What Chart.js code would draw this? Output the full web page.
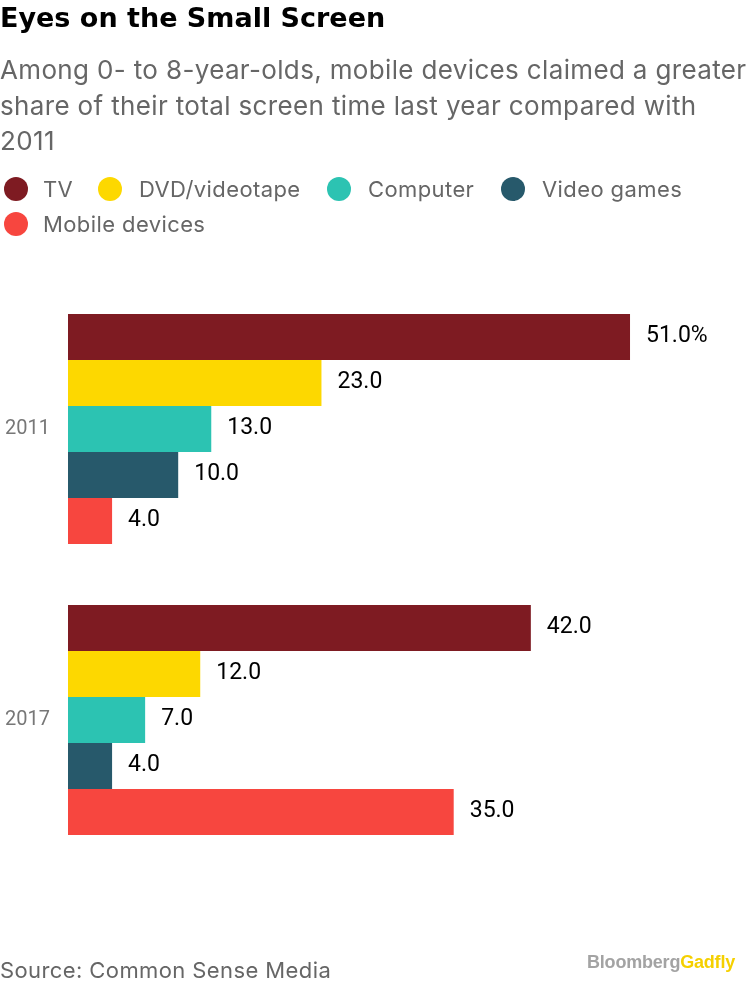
<!DOCTYPE html>
<html>
<head>
<meta charset="utf-8">
<script src="https://cdn.jsdelivr.net/npm/chart.js@4.4.1/dist/chart.umd.min.js"></script>
<style>
  html,body{margin:0;padding:0;background:#fff;}
  body{width:750px;height:986px;position:relative;overflow:hidden;font-family:"Inter","Roboto",sans-serif;}
  #c{position:absolute;left:0;top:0;}
  .t{position:absolute;white-space:nowrap;}
  #title{left:0;top:1px;font-size:27px;line-height:34px;font-weight:bold;color:#000;font-family:"DejaVu Sans",sans-serif;}
  #sub{left:0;top:52px;font-size:26px;line-height:35.5px;color:#666;font-family:"Inter",sans-serif;letter-spacing:0.35px;}
  .leg{position:absolute;height:24px;}
  .dot{position:absolute;left:0;top:0;width:24px;height:24px;border-radius:50%;}
  .lt{position:absolute;top:-3px;font-size:22px;line-height:30px;color:#666;font-family:"Inter",sans-serif;white-space:nowrap;letter-spacing:0.4px;}
  #src{left:0;top:956px;font-size:22px;line-height:28px;color:#666;font-family:"Inter",sans-serif;letter-spacing:0.4px;}
  #brand{left:587px;top:950px;font-size:18px;line-height:24px;font-weight:bold;color:#a3a3a3;font-family:"Liberation Sans",Arial,sans-serif;letter-spacing:-0.2px;}
  #brand span{color:#f5d000;}
</style>
</head>
<body>
<canvas id="c" width="750" height="986"></canvas>
<div class="t" id="title">Eyes on the Small Screen</div>
<div class="t" id="sub">Among 0- to 8-year-olds, mobile devices claimed a greater<br>share of their total screen time last year compared with<br>2011</div>
<div id="legend"></div>
<div class="t" id="src">Source: Common Sense Media</div>
<div class="t" id="brand">Bloomberg<span>Gadfly</span></div>
<script>
const categories = ["2011", "2017"];
const seriesNames = ["TV", "DVD/videotape", "Computer", "Video games", "Mobile devices"];
const tv = [51, 42];
const dvd = [23, 12];
const computer = [13, 7];
const videoGames = [10, 4];
const mobile = [4, 35];
const seriesColors = ["#7e1b22", "#fdd800", "#2cc3b2", "#27596b", "#f7463f"];

const seriesValues = [tv, dvd, computer, videoGames, mobile];
// legend layout: [circle left, row top, text left offset]
const legendPos = [[4,177,39],[98,177,41],[327,177,41],[501,177,41],[4,212,39]];

const legend = document.getElementById('legend');
seriesNames.forEach((n,i)=>{
  const d=document.createElement('div');
  d.className='leg';
  d.style.left=legendPos[i][0]+'px';
  d.style.top=legendPos[i][1]+'px';
  d.innerHTML='<div class="dot" style="background:'+seriesColors[i]+'"></div><div class="lt" style="left:'+legendPos[i][2]+'px">'+n+'</div>';
  legend.appendChild(d);
});

const labelPlugin = {
  id:'valueLabels',
  afterDatasetsDraw(chart){
    const ctx=chart.ctx;
    ctx.save();
    ctx.font='23px Roboto, sans-serif';
    ctx.fillStyle='#000';
    ctx.textBaseline='middle';
    ctx.textAlign='left';
    chart.data.datasets.forEach((ds,di)=>{
      const meta=chart.getDatasetMeta(di);
      meta.data.forEach((bar,i)=>{
        const v=ds.data[i];
        let s=v.toFixed(1);
        if(di===0 && i===0) s+='%';
        ctx.fillText(s, bar.x+16, bar.y-1);
      });
    });
    ctx.restore();
  }
};

new Chart(document.getElementById('c'), {
  type:'bar',
  data:{
    labels:categories,
    datasets:seriesNames.map((n,i)=>({
      label:n,
      data:seriesValues[i],
      backgroundColor:seriesColors[i],
      borderWidth:0,
      barPercentage:1,
      categoryPercentage:0.79
    }))
  },
  options:{
    indexAxis:'y',
    responsive:false,
    animation:false,
    layout:{padding:{left:0,right:20.8,top:283.5,bottom:120.5}},
    plugins:{legend:{display:false},tooltip:{enabled:false},title:{display:false}},
    scales:{
      x:{display:false,min:0,max:60},
      y:{
        grid:{display:false,drawTicks:false},
        border:{display:false},
        ticks:{color:'#777',font:{size:20,family:'Roboto, sans-serif'},padding:18},
        afterFit(scale){scale.width=68;}
      }
    }
  },
  plugins:[labelPlugin]
});
</script>
</body>
</html>
